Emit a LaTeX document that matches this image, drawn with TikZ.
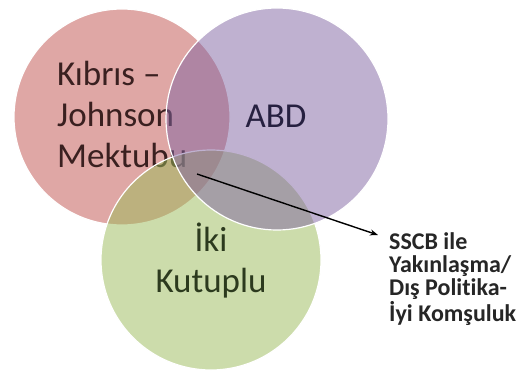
\documentclass[tikz,border=0pt]{standalone}
\usepackage{fontspec}
\setmainfont{Carlito}[Ligatures=NoCommon]
\usetikzlibrary{arrows.meta}
\definecolor{vred}{HTML}{C0504D}
\definecolor{vpurple}{HTML}{8064A2}
\definecolor{vgreen}{HTML}{9BBB59}
\definecolor{tred}{HTML}{3A2020}
\definecolor{tpurple}{HTML}{262040}
\definecolor{tgreen}{HTML}{2C3A1E}
\tikzset{
  venn/.style={circle, inner sep=0pt, outer sep=0pt, minimum size=#1, fill opacity=0.5, draw=white, line width=1.2pt},
  biglabel/.style={font=\fontsize{35}{41}\selectfont, inner sep=0pt, text opacity=1},
  sidelabel/.style={font=\fontsize{24}{23}\selectfont\bfseries, inner sep=0pt, align=left, text=black!85},
  pointer/.style={line width=1.4pt, -{Stealth[length=8pt,width=6pt]}}
}
\begin{document}
\begin{tikzpicture}[x=1pt,y=-1pt]
\useasboundingbox[fill=white] (0,0) rectangle (521,379);
% red circle and its text
\node[venn=216pt, fill=vred] (red) at (122,117) {};
\node[biglabel, anchor=base west, align=left, text=tred] (kibris) at (57,168) {Kıbrıs –\\Johnson\\Mektubu};
% green circle and its text
\node[venn=220pt, fill=vgreen] (green) at (211,260) {};
\node[biglabel, anchor=base, align=center, text=tgreen] (iki) at (211,292) {İki\\Kutuplu};
% purple circle and its text
\node[venn=222pt, fill=vpurple] (purple) at (277,119) {};
\node[biglabel, anchor=base, text=tpurple] (abd) at (276,128) {ABD};
% pointer and side text
\coordinate (src) at (197,174);
\coordinate (tip) at (378,235);
\node[sidelabel, anchor=base west] (sscb) at (389,321) {SSCB ile\\Yakınlaşma/\\Dış Politika-\\İyi Komşuluk};
\draw[pointer] (src) -- (tip);
\end{tikzpicture}
\end{document}
